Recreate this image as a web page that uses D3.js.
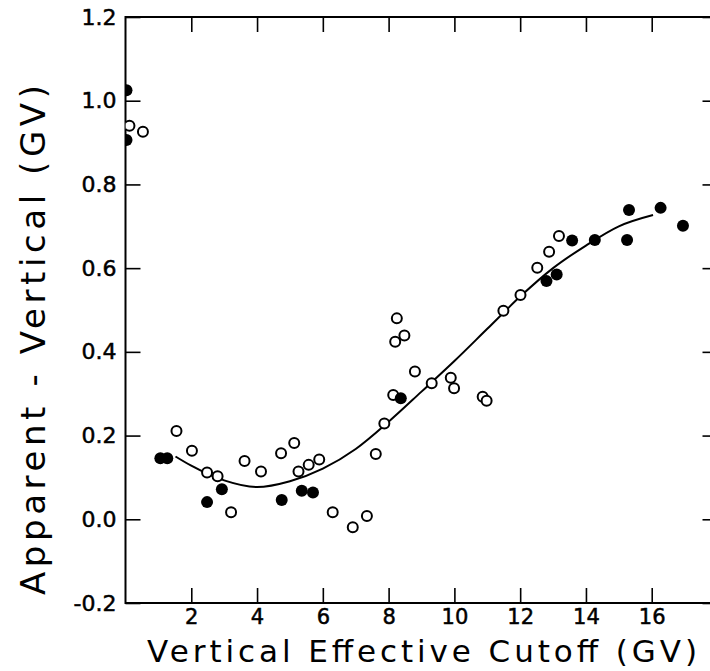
<!DOCTYPE html>
<html>
<head>
<meta charset="utf-8">
<script src="https://cdn.jsdelivr.net/npm/d3@7"></script>
<style>
  body { margin: 0; background: #fff; }
  svg { display: block; }
  text { font-family: "DejaVu Sans", "Liberation Sans", sans-serif; fill: #000; }
</style>
</head>
<body>
<div id="main"></div>
<script>
var open_x = [0.12, 0.53, 1.55, 2.02, 2.48, 2.80, 3.21, 3.62, 4.12, 4.73, 5.13, 5.26, 5.57, 5.89,
              6.30, 6.91, 7.34, 7.61, 7.87, 8.14, 8.25, 8.20, 8.48, 8.80, 9.31, 9.89, 9.99,
              10.86, 10.98, 11.49, 12.01, 12.52, 12.88, 13.18];
var open_y = [0.940, 0.926, 0.211, 0.164, 0.112, 0.103, 0.017, 0.139, 0.114, 0.158, 0.182, 0.114, 0.130, 0.143,
              0.017, -0.019, 0.008, 0.156, 0.229, 0.297, 0.480, 0.424, 0.439, 0.353, 0.325, 0.338, 0.313,
              0.293, 0.283, 0.498, 0.536, 0.601, 0.639, 0.677];
var filled_x = [0.03, 0.03, 1.06, 1.27, 2.48, 2.93, 4.75, 5.36, 5.70, 8.37,
                12.80, 13.11, 13.58, 14.27, 15.25, 15.31, 16.27, 16.95];
var filled_y = [1.025, 0.906, 0.146, 0.146, 0.041, 0.072, 0.046, 0.068, 0.064, 0.289,
                0.569, 0.585, 0.666, 0.667, 0.667, 0.739, 0.744, 0.701];
var fit_x = [1.52, 2, 3, 4, 5, 6, 7, 8, 9, 10, 11, 12, 13, 14, 15, 16.04];
var fit_y = [0.150, 0.128, 0.093, 0.077, 0.091, 0.121, 0.168, 0.233, 0.305, 0.378, 0.455, 0.532, 0.600, 0.654, 0.700, 0.727];
var x_ticks = [2, 4, 6, 8, 10, 12, 14, 16];
var y_ticks = [-0.2, 0.0, 0.2, 0.4, 0.6, 0.8, 1.0, 1.2];

var width = 710, height = 671;
var margin = {left: 125.5, top: 17, right: -7.5, bottom: 68};
var w = width - margin.left - margin.right;
var h = height - margin.top - margin.bottom;

var svg = d3.select("#main").append("svg")
    .attr("width", width)
    .attr("height", height);

var x = d3.scaleLinear().domain([0, 18]).range([0, w]);
var y = d3.scaleLinear().domain([-0.2, 1.2]).range([h, 0]);

var g = svg.append("g")
    .attr("transform", "translate(" + margin.left + "," + margin.top + ")");

g.append("clipPath").attr("id", "plot_clip")
    .append("rect").attr("width", w).attr("height", h);

var tick_len = 15;
var style_axis = function(sel) {
    sel.select(".domain").remove();
    sel.selectAll("line").attr("stroke", "#000").attr("stroke-width", 1.6);
    sel.selectAll("text")
        .style("font-size", "22px")
        .attr("stroke", "#000")
        .attr("stroke-width", 0.5);
};

g.append("g")
    .attr("transform", "translate(0," + h + ")")
    .call(d3.axisBottom(x).tickValues(x_ticks).tickSizeInner(-tick_len).tickSizeOuter(0).tickPadding(6)
          .tickFormat(d3.format("d")))
    .call(style_axis)
    .selectAll("text").style("font-size", "21px");
g.append("g")
    .call(d3.axisTop(x).tickValues(x_ticks).tickSizeInner(-tick_len).tickSizeOuter(0).tickFormat(""))
    .call(style_axis);
g.append("g")
    .call(d3.axisLeft(y).tickValues(y_ticks).tickSizeInner(-tick_len).tickSizeOuter(0).tickPadding(9)
          .tickFormat(d3.format(".1f")))
    .call(style_axis)
    .selectAll("text").text(function(d) { return d3.format(".1f")(d).replace("−", "-"); });
g.append("g")
    .attr("transform", "translate(" + w + ",0)")
    .call(d3.axisRight(y).tickValues(y_ticks).tickSizeInner(-tick_len).tickSizeOuter(0).tickFormat(""))
    .call(style_axis);

g.append("rect")
    .attr("width", w).attr("height", h)
    .attr("fill", "none").attr("stroke", "#000").attr("stroke-width", 2);

var fit = d3.zip(fit_x, fit_y);
g.append("path")
    .datum(fit)
    .attr("fill", "none")
    .attr("stroke", "#000")
    .attr("stroke-width", 2)
    .attr("d", d3.line()
          .x(function(d) { return x(d[0]); })
          .y(function(d) { return y(d[1]); })
          .curve(d3.curveMonotoneX));

var pts = g.append("g").attr("clip-path", "url(#plot_clip)");
pts.selectAll(".open")
    .data(d3.zip(open_x, open_y))
    .enter().append("circle")
    .attr("class", "open")
    .attr("cx", function(d) { return x(d[0]); })
    .attr("cy", function(d) { return y(d[1]); })
    .attr("r", 5)
    .attr("fill", "#fff")
    .attr("stroke", "#000")
    .attr("stroke-width", 2);
pts.selectAll(".filled")
    .data(d3.zip(filled_x, filled_y))
    .enter().append("circle")
    .attr("class", "filled")
    .attr("cx", function(d) { return x(d[0]); })
    .attr("cy", function(d) { return y(d[1]); })
    .attr("r", 6)
    .attr("fill", "#000");

svg.append("text")
    .attr("x", 147).attr("y", 662)
    .attr("textLength", 550).attr("lengthAdjust", "spacing")
    .style("font-size", "31px")
    .text("Vertical Effective Cutoff (GV)");

svg.append("text")
    .attr("transform", "translate(45,595) rotate(-90)")
    .attr("textLength", 510).attr("lengthAdjust", "spacing")
    .style("font-size", "34px")
    .text("Apparent - Vertical (GV)");
</script>
</body>
</html>
